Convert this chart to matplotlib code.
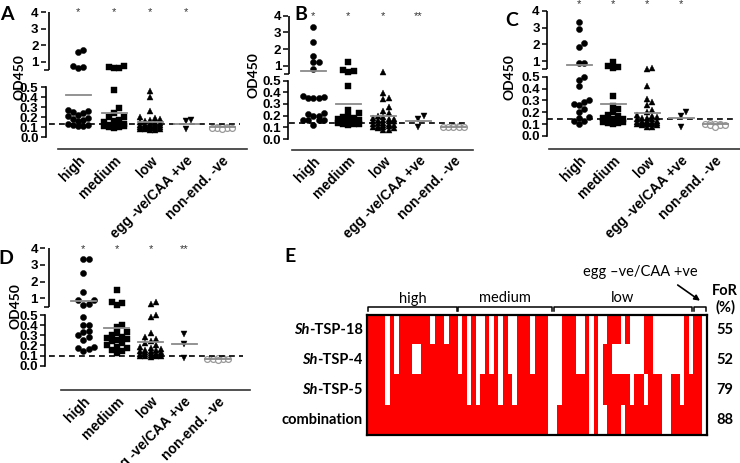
import numpy as np
import matplotlib
matplotlib.use('Agg')
import matplotlib.pyplot as plt
from matplotlib import transforms as mtrans
from matplotlib.colors import ListedColormap

# ---------------- data ----------------
categories = ['high', 'medium', 'low', 'egg -ve/CAA +ve', 'non-end. -ve']

A_high = [1.72, 1.6, 0.78, 0.68, 0.62, 0.27, 0.26, 0.25, 0.24, 0.22, 0.21, 0.19, 0.18, 0.17, 0.16, 0.13, 0.12, 0.12, 0.11, 0.11]
A_medium = [0.75, 0.72, 0.66, 0.62, 0.47, 0.29, 0.24, 0.2, 0.2, 0.17, 0.16, 0.15, 0.13, 0.12, 0.12, 0.12, 0.11, 0.11, 0.1, 0.1, 0.09]
A_low = [0.46, 0.40, 0.26, 0.2, 0.19, 0.18, 0.17, 0.16, 0.15, 0.15, 0.14, 0.14, 0.13, 0.13, 0.12, 0.12, 0.12, 0.11, 0.11, 0.11, 0.1, 0.1, 0.1, 0.09, 0.09, 0.09, 0.08, 0.08, 0.08, 0.07, 0.07]
A_egg = [0.17, 0.16, 0.08]
A_nonend = [0.1, 0.1, 0.1, 0.09, 0.09, 0.09, 0.09, 0.08]
A_means = [0.42, 0.24, 0.15, 0.13, 0.10]
A_cutoff = 0.13
A_stars = ['*', '*', '*', '*']

B_high = [3.3, 2.4, 1.6, 1.2, 1.2, 0.78, 0.37, 0.36, 0.35, 0.35, 0.35, 0.22, 0.21, 0.2, 0.2, 0.16, 0.16, 0.16, 0.16, 0.12]
B_medium = [1.25, 0.75, 0.7, 0.65, 0.45, 0.25, 0.22, 0.2, 0.19, 0.18, 0.17, 0.16, 0.16, 0.15, 0.15, 0.14, 0.14, 0.13, 0.13, 0.13, 0.12]
B_low = [0.6, 0.39, 0.35, 0.34, 0.27, 0.24, 0.22, 0.2, 0.19, 0.18, 0.17, 0.17, 0.16, 0.16, 0.15, 0.15, 0.15, 0.14, 0.14, 0.13, 0.13, 0.12, 0.12, 0.11, 0.11, 0.1, 0.1, 0.09, 0.09, 0.08, 0.08]
B_egg = [0.2, 0.17, 0.1]
B_nonend = [0.11, 0.11, 0.1, 0.1, 0.1, 0.1, 0.1]
B_means = [0.70, 0.30, 0.20, 0.15, 0.10]
B_cutoff = 0.14
B_stars = ['*', '*', '*', '**']

C_high = [3.35, 2.9, 2.05, 1.85, 0.9, 0.9, 0.5, 0.47, 0.42, 0.3, 0.29, 0.27, 0.26, 0.23, 0.2, 0.16, 0.15, 0.13, 0.13, 0.1]
C_medium = [0.95, 0.7, 0.65, 0.6, 0.34, 0.25, 0.23, 0.2, 0.18, 0.17, 0.15, 0.14, 0.14, 0.13, 0.13, 0.12, 0.12, 0.12, 0.11, 0.11, 0.1]
C_low = [0.6, 0.55, 0.42, 0.31, 0.29, 0.26, 0.22, 0.2, 0.18, 0.17, 0.16, 0.15, 0.15, 0.14, 0.14, 0.13, 0.13, 0.13, 0.12, 0.12, 0.12, 0.11, 0.11, 0.11, 0.1, 0.1, 0.1, 0.09, 0.09, 0.08, 0.08]
C_egg = [0.2, 0.17, 0.08]
C_nonend = [0.11, 0.1, 0.1, 0.1, 0.09, 0.09, 0.09, 0.08]
C_means = [0.78, 0.27, 0.19, 0.15, 0.10]
C_cutoff = 0.14
C_stars = ['*', '*', '*', '*']

D_high = [3.35, 3.35, 2.5, 1.4, 0.9, 0.9, 0.65, 0.6, 0.48, 0.4, 0.4, 0.34, 0.33, 0.3, 0.28, 0.25, 0.19, 0.18, 0.17, 0.15]
D_medium = [1.5, 0.75, 0.7, 0.6, 0.4, 0.38, 0.33, 0.32, 0.3, 0.28, 0.27, 0.26, 0.25, 0.24, 0.22, 0.2, 0.19, 0.18, 0.16, 0.15, 0.13]
D_low = [0.8, 0.65, 0.5, 0.48, 0.32, 0.28, 0.26, 0.24, 0.22, 0.2, 0.19, 0.18, 0.17, 0.16, 0.16, 0.15, 0.15, 0.14, 0.14, 0.13, 0.13, 0.12, 0.12, 0.12, 0.11, 0.11, 0.1, 0.1, 0.1, 0.1, 0.09]
D_egg = [0.31, 0.21, 0.08]
D_nonend = [0.08, 0.08, 0.07, 0.07, 0.07, 0.07, 0.06]
D_means = [0.82, 0.37, 0.23, 0.21, 0.07]
D_cutoff = 0.10
D_stars = ['*', '*', '*', '**']

# panel E: heat map (columns that are white = non-reactive), 75 sera
E_rows = ['Sh-TSP-18', 'Sh-TSP-4', 'Sh-TSP-5', 'combination']
E_groups = ['high', 'medium', 'low', '']
E_group_sizes = [20, 21, 31, 3]
E_white_tsp18 = [4, 6, 14, 17, 20, 22, 24, 25, 27, 29, 31, 32, 36, 40, 41, 42, 46, 47, 49, 51, 52,
                 56, 58, 59, 60, 63, 64, 65, 66, 67, 68, 69, 71, 74]
E_white_tsp4 = [4, 6, 10, 11, 20, 22, 24, 25, 27, 29, 31, 32, 36, 40, 41, 42, 46, 47, 49, 51,
                54, 55, 56, 57, 58, 59, 60, 63, 64, 65, 66, 67, 68, 69, 71, 74]
E_white_tsp5 = [4, 22, 24, 29, 32, 40, 41, 42, 49, 51, 58, 61, 65, 66, 69, 74]
E_white_comb = [40, 41, 49, 51, 52, 56, 65, 66, 74]
E_for = ['55', '52', '79', '88']

# ---------------- style / layout ----------------
W, H = 740, 463
fig = plt.figure(figsize=(W / 100, H / 100), dpi=100)
TICKFONT = ['Liberation Sans', 'DejaVu Sans']
CALFONT = ['Lato', 'DejaVu Sans']


def px_rect(l, t, r, b):
    return [l / W, 1 - b / H, (r - l) / W, (b - t) / H]


def ftext(x, y, s, **kw):
    return fig.text(x / W, 1 - y / H, s, **kw)


def make_scale(c, k):
    def fwd(y):
        y = np.asarray(y, dtype=float)
        return np.where(y <= 0.5, y, c + (y - 1.0) * k)

    def inv(u):
        u = np.asarray(u, dtype=float)
        lo = c - 0.5 * k
        return np.where(u <= 0.5, u, np.where(u < lo, 0.5, 1.0 + (u - c) / k))
    return fwd, inv


def swarm_x(ax, xc, ys, d, maxoff):
    ys = np.asarray(ys, dtype=float)
    disp = ax.transData.transform(np.column_stack([np.full(len(ys), xc), ys]))
    x0 = disp[0, 0]
    py = disp[:, 1]
    order = np.argsort(py, kind='stable')
    cands = [0.0]
    j = 1
    while j * d <= maxoff + 1e-9:
        cands += [j * d, -j * d]
        j += 1
    placed = []
    out = np.zeros(len(ys))
    for i in order:
        best, bestd = 0.0, -1.0
        for cx in cands:
            md = min([np.hypot(cx - qx, py[i] - qy) for qx, qy in placed] or [1e9])
            if md >= d * 0.98:
                best = cx
                break
            if md > bestd + 0.5:
                best, bestd = cx, md
        placed.append((best, py[i]))
        out[i] = x0 + best
    inv = ax.transData.inverted()
    return inv.transform(np.column_stack([out, py]))[:, 0]


panels = [
    dict(name='A', series=[A_high, A_medium, A_low, A_egg, A_nonend], means=A_means, cutoff=A_cutoff, stars=A_stars,
         y0=137.3, plow=100.0, y1=62.0, pup=16.6, left=58, right=247, xfirst=78, xstep=36,
         loff=9, boff=8.7, star_y=4.0, letter=(7, 15), ylab=(19, 77)),
    dict(name='B', series=[B_high, B_medium, B_low, B_egg, B_nonend], means=B_means, cutoff=B_cutoff, stars=B_stars,
         y0=139.0, plow=116.7, y1=65.7, pup=16.7, left=292, right=473, xfirst=313.3, xstep=35,
         loff=2.7, boff=7.7, star_y=4.0, letter=(301, 14), ylab=(254, 75)),
    dict(name='C', series=[C_high, C_medium, C_low, C_egg, C_nonend], means=C_means, cutoff=C_cutoff, stars=C_stars,
         y0=136.0, plow=118.7, y1=61.0, pup=16.7, left=549, right=740, xfirst=579, xstep=34,
         loff=1.7, boff=9.7, star_y=4.38, letter=(512, 21), ylab=(510, 77)),
    dict(name='D', series=[D_high, D_medium, D_low, D_egg, D_nonend], means=D_means, cutoff=D_cutoff, stars=D_stars,
         y0=365.7, plow=101.0, y1=298.3, pup=16.7, left=61, right=250, xfirst=83.3, xstep=33.6,
         loff=11.7, boff=17.6, star_y=3.95, letter=(6, 258), ylab=(16, 306)),
]

markers = ['o', 's', '^', 'v', 'o']
msizes = [4.4, 4.4, 4.8, 4.8, 4.2]

for p in panels:
    c = (p['y0'] - p['y1']) / p['plow']
    k = p['pup'] / p['plow']
    fwd, inv = make_scale(c, k)
    top_px = p['y0'] - float(fwd(4.0)) * p['plow']
    ax = fig.add_axes(px_rect(p['left'], top_px, p['right'], p['y0']))
    ax.set_yscale('function', functions=(fwd, inv))
    ax.set_ylim(0, 4)
    ax.set_xlim((p['left'] - p['xfirst']) / p['xstep'], (p['right'] - p['xfirst']) / p['xstep'])
    ax.autoscale(False)
    ax.patch.set_visible(False)
    for s in ['top', 'right']:
        ax.spines[s].set_visible(False)
    ax.spines['left'].set_position(('outward', p['loff']))
    ax.spines['left'].set_bounds(0, 0.5)
    ax.spines['bottom'].set_position(('outward', p['boff']))
    for s in ['left', 'bottom']:
        ax.spines[s].set_linewidth(1.2)
    ax.spines['bottom'].set_color('#333333')

    yt = [0.0, 0.1, 0.2, 0.3, 0.4, 0.5, 1, 2, 3, 4]
    ax.set_yticks(yt)
    ax.set_yticklabels(['0.0', '0.1', '0.2', '0.3', '0.4', '0.5', '1', '2', '3', '4'],
                       fontfamily=TICKFONT, fontweight='bold', fontsize=9.6)
    ax.yaxis.set_minor_locator(matplotlib.ticker.NullLocator())
    ax.tick_params(axis='y', direction='out', length=3.5, width=1.1, pad=1.5)
    ax.set_xticks(range(len(categories)))
    ax.set_xticklabels(categories, rotation=45, ha='right', va='top', rotation_mode='anchor',
                       fontfamily=TICKFONT, fontweight='bold', fontsize=10)
    ax.tick_params(axis='x', length=0, pad=3)

    # upper part of the broken y axis
    base = mtrans.blended_transform_factory(ax.transAxes, ax.transData)
    tr = mtrans.offset_copy(base, fig=fig, x=-p['loff'], y=0, units='dots')
    ax.plot([0, 0], [0.5001, 4.0], color='black', lw=1.2, transform=tr, clip_on=False,
            solid_capstyle='butt')
    ax.plot([0], [0.5001], marker=0, ms=3.5, mew=1.1, color='black', transform=tr, clip_on=False)

    # cutoff line
    xr = (p['right'] - 7 - p['left'] + p['loff']) / (p['right'] - p['left'])
    ax.plot([0, xr], [p['cutoff'], p['cutoff']], transform=tr, color='black', lw=1.2,
            ls=(0, (3.5, 2.5)), clip_on=False, zorder=4)

    for i, ys in enumerate(p['series']):
        xs = swarm_x(ax, i, ys, 5.2, 13.0)
        if i == 4:
            ax.plot(xs, ys, ls='none', marker='o', ms=msizes[i], mfc='white', mec='#999999',
                    mew=0.9, clip_on=False, zorder=3)
        else:
            ax.plot(xs, ys, ls='none', marker=markers[i], ms=msizes[i], mfc='black', mec='black',
                    mew=0.3, clip_on=False, zorder=3)
        hw = 12.5 / p['xstep']
        ax.plot([i - hw, i + hw], [p['means'][i], p['means'][i]], color='#8a8a8a', lw=1.3,
                zorder=5, clip_on=False)
    for i, st in enumerate(p['stars']):
        ax.text(i, p['star_y'], st, ha='center', va='center', fontsize=8, color='#333333',
                fontfamily=TICKFONT)

    ftext(p['letter'][0], p['letter'][1], p['name'], ha='center', va='center', fontsize=14,
          fontweight='bold', fontfamily=CALFONT)
    ftext(p['ylab'][0], p['ylab'][1], 'OD450', ha='center', va='center', rotation=90,
          fontsize=10, fontweight='bold', fontfamily=CALFONT)

# ---------------- panel E ----------------
ncol = sum(E_group_sizes)
whites = [E_white_tsp18, E_white_tsp4, E_white_tsp5, E_white_comb]
mat = np.ones((len(E_rows), ncol))
for r, wl in enumerate(whites):
    mat[r, wl] = 0
axe = fig.add_axes(px_rect(367.3, 315, 706.7, 435))
axe.imshow(mat, cmap=ListedColormap(['white', '#ff0000']), vmin=0, vmax=1, aspect='auto',
           interpolation='nearest', extent=(0, ncol, len(E_rows), 0))
axe.set_xlim(0, ncol)
axe.set_ylim(len(E_rows), 0)
axe.autoscale(False)
axe.set_xticks([])
axe.set_yticks([])
for s in axe.spines.values():
    s.set_linewidth(1.6)
    s.set_color('black')

# brackets
yt_b, yb_b = -0.26, -0.12
start = 0
for g, n in zip(E_groups, E_group_sizes):
    a = start + 0.15
    b = start + n - 0.15
    axe.plot([a, a, b, b], [yb_b, yt_b, yt_b, yb_b], color='black', lw=1.1, clip_on=False)
    if g:
        axe.text((a + b) / 2, -0.55, g, ha='center', va='center', fontsize=10.5,
                 fontfamily=CALFONT)
    start += n

# row labels
for r, lab in enumerate(E_rows):
    yc = 315 + 30 * r + 15
    if lab.startswith('Sh'):
        t = ftext(363, yc, lab[2:], ha='right', va='center', fontsize=10.5, fontweight='bold',
                  fontfamily=CALFONT)
        axe.annotate('Sh', xy=(0, 0), xycoords=t, ha='right', va='bottom', fontsize=10.5,
                     fontweight='bold', fontstyle='italic', fontfamily=CALFONT)
    else:
        ftext(363, yc, lab, ha='right', va='center', fontsize=10.5, fontweight='bold',
              fontfamily=CALFONT)
    ftext(725, yc, E_for[r], ha='center', va='center', fontsize=10.5, fontweight='bold',
          fontfamily=CALFONT)

ftext(725, 291, 'FoR', ha='center', va='center', fontsize=10.5, fontweight='bold', fontfamily=CALFONT)
ftext(725, 307, '(%)', ha='center', va='center', fontsize=10.5, fontweight='bold', fontfamily=CALFONT)
ftext(640, 272, 'egg \u2013ve/CAA +ve', ha='center', va='center', fontsize=10.5, fontfamily=CALFONT)
axe.annotate('', xy=(700, H - 300.7), xycoords='figure pixels', xytext=(677.7, H - 285),
             textcoords='figure pixels',
             arrowprops=dict(arrowstyle='-|>', lw=1.2, color='black', mutation_scale=8,
                             shrinkA=0, shrinkB=0))
ftext(290, 257, 'E', ha='center', va='center', fontsize=14, fontweight='bold', fontfamily=CALFONT)

fig.savefig('out.png', dpi=100)
